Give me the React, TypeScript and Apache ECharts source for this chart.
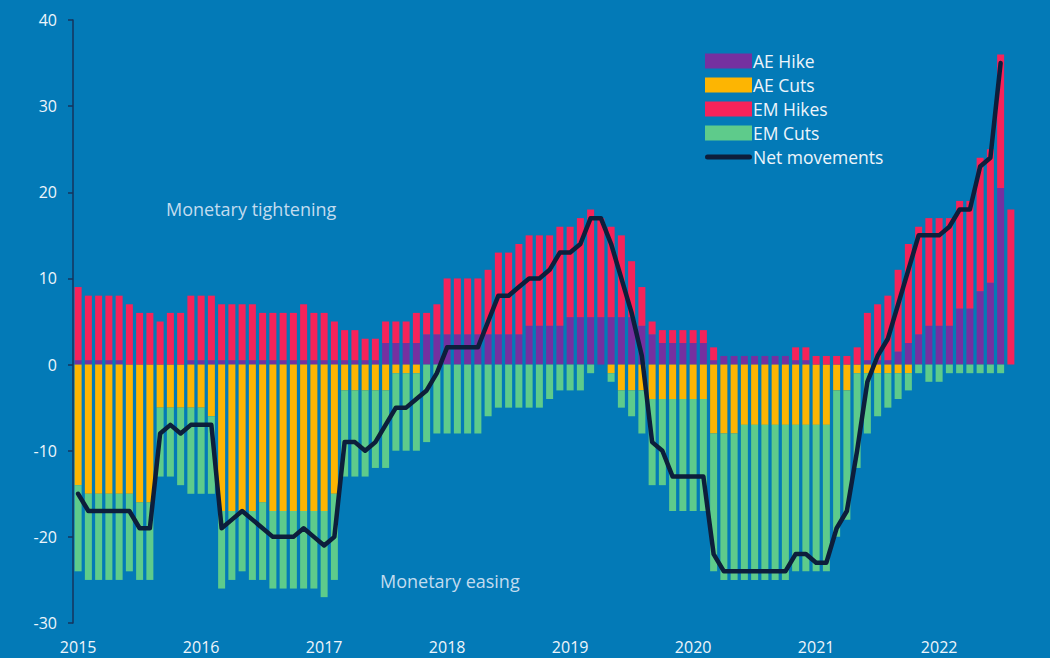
import React, { useEffect, useRef } from "react";
import * as echarts from "echarts";

const years = ["2015", "2016", "2017", "2018", "2019", "2020", "2021", "2022"];
const monthCodes = ["01", "02", "03", "04", "05", "06", "07", "08", "09", "10", "11", "12"];
const categories = years.flatMap((y) => monthCodes.map((m) => `${y}-${m}`)).slice(0, 92);

// AE Hike (purple)
const aeHike = [
  0.5, 0.5, 0.5, 0.5, 0.5, 0, 0, 0, 0, 0, 0, 0.5,
  0.5, 0.5, 0.5, 0.5, 0.5, 0.5, 0.5, 0.5, 0.5, 0.5, 0.5, 0.5,
  0.5, 0.5, 0.5, 0.5, 0.5, 0.5, 2.5, 2.5, 2.5, 2.5, 3.5, 3.5,
  3.5, 3.5, 3.5, 3.5, 3.5, 3.5, 3.5, 3.5, 4.5, 4.5, 4.5, 4.5,
  5.5, 5.5, 5.5, 5.5, 5.5, 5.5, 5.5, 4.5, 3.5, 2.5, 2.5, 2.5,
  2.5, 2.5, 0.5, 1, 1, 1, 1, 1, 1, 1, 0.5, 0.5,
  0, 0, 0, 0, 0, 0.5, 0.5, 0.5, 1.5, 2.5, 3.5, 4.5,
  4.5, 4.5, 6.5, 6.5, 8.5, 9.5, 20.5, 0,
];

// AE Cuts (orange)
const aeCuts = [
  -14, -15, -15, -15, -15, -15, -16, -16, -5, -5, -5, -5,
  -5, -6, -17, -17, -17, -17, -16, -17, -17, -17, -17, -17,
  -17, -15, -3, -3, -3, -3, -3, -1, -1, -1, 0, 0,
  0, 0, 0, 0, 0, 0, 0, 0, 0, 0, 0, 0,
  0, 0, 0, 0, -1, -3, -3, -3, -4, -4, -4, -4,
  -4, -4, -8, -8, -8, -7, -7, -7, -7, -7, -7, -7,
  -7, -7, -3, -3, -1, -1, -1, -1, -1, -1, 0, 0,
  0, 0, 0, 0, 0, 0, 0, 0,
];

// EM Hikes (red)
const emHikes = [
  8.5, 7.5, 7.5, 7.5, 7.5, 7, 6, 6, 5, 6, 6, 7.5,
  7.5, 7.5, 6.5, 6.5, 6.5, 6.5, 5.5, 5.5, 5.5, 5.5, 6.5, 5.5,
  5.5, 4.5, 3.5, 3.5, 2.5, 2.5, 2.5, 2.5, 2.5, 3.5, 2.5, 3.5,
  6.5, 6.5, 6.5, 6.5, 7.5, 9.5, 9.5, 10.5, 10.5, 10.5, 10.5, 11.5,
  10.5, 11.5, 12.5, 11.5, 10.5, 9.5, 6.5, 4.5, 1.5, 1.5, 1.5, 1.5,
  1.5, 1.5, 1.5, 0, 0, 0, 0, 0, 0, 0, 1.5, 1.5,
  1, 1, 1, 1, 2, 5.5, 6.5, 7.5, 9.5, 11.5, 12.5, 12.5,
  12.5, 12.5, 12.5, 12.5, 15.5, 15.5, 15.5, 18,
];

// EM Cuts (green)
const emCuts = [
  -10, -10, -10, -10, -10, -9, -9, -9, -8, -8, -9, -10,
  -10, -9, -9, -8, -7, -8, -9, -9, -9, -9, -9, -9,
  -10, -10, -10, -10, -10, -9, -9, -9, -9, -9, -9, -8,
  -8, -8, -8, -8, -6, -5, -5, -5, -5, -5, -4, -3,
  -3, -3, -1, 0, -1, -2, -3, -5, -10, -10, -13, -13,
  -13, -13, -16, -17, -17, -18, -18, -18, -18, -18, -17, -17,
  -17, -17, -17, -15, -11, -7, -5, -4, -3, -2, -1, -2,
  -2, -1, -1, -1, -1, -1, -1, 0,
];

// Net movements (line)
const netMovements = [
  -15, -17, -17, -17, -17, -17, -19, -19, -8, -7, -8, -7,
  -7, -7, -19, -18, -17, -18, -19, -20, -20, -20, -19, -20,
  -21, -20, -9, -9, -10, -9, -7, -5, -5, -4, -3, -1,
  2, 2, 2, 2, 5, 8, 8, 9, 10, 10, 11, 13,
  13, 14, 17, 17, 14, 10, 6, 1, -9, -10, -13, -13,
  -13, -13, -22, -24, -24, -24, -24, -24, -24, -24, -22, -22,
  -23, -23, -19, -17, -10, -2, 1, 3, 7, 11, 15, 15,
  15, 16, 18, 18, 23, 24, 35, null,
];

const FONT = "'Open Sans', 'Noto Sans', sans-serif";
const BG = "#037ab7";
const TEXT = "#eef5fb";
const AXIS = "#16345c";
const LINE = "#0d1e3b";
const PILL = "path://M2.5,0 H44.5 A2.5,2.5 0 0 1 44.5,5 H2.5 A2.5,2.5 0 0 1 2.5,0 Z";

export default function App() {
  const ref = useRef<HTMLDivElement>(null);

  useEffect(() => {
    if (!ref.current) return;
    const chart = echarts.init(ref.current, null, { renderer: "svg" });
    const barBase = { type: "bar", stack: "total", barWidth: 7 };
    chart.setOption({
      animation: false,
      backgroundColor: BG,
      textStyle: { fontFamily: FONT },
      grid: { left: 73, right: 34, top: 20, bottom: 35 },
      legend: {
        orient: "vertical",
        left: 705,
        top: 52,
        padding: 0,
        itemWidth: 47,
        itemHeight: 15,
        itemGap: 6,
        symbolKeepAspect: true,
        textStyle: { color: TEXT, fontSize: 17.5, fontFamily: FONT, padding: [0, 0, 0, -4] },
        data: [
          { name: "AE Hike", icon: "rect" },
          { name: "AE Cuts", icon: "rect" },
          { name: "EM Hikes", icon: "rect" },
          { name: "EM Cuts", icon: "rect" },
          { name: "Net movements", icon: PILL, itemStyle: { color: LINE } },
        ],
      },
      xAxis: {
        type: "category",
        data: categories,
        axisLine: { show: false, onZero: false },
        axisTick: { show: false },
        splitLine: { show: false },
        axisLabel: {
          interval: 11,
          color: TEXT,
          fontSize: 16,
          fontFamily: FONT,
          margin: 16,
          formatter: (v: string) => v.slice(0, 4),
        },
      },
      yAxis: {
        type: "value",
        min: -30,
        max: 40,
        interval: 10,
        axisLine: { show: true, lineStyle: { color: AXIS, width: 1.5 } },
        axisTick: { show: true, length: 5, lineStyle: { color: AXIS, width: 1.5 } },
        splitLine: { show: false },
        axisLabel: { color: TEXT, fontSize: 16, fontFamily: FONT, margin: 16 },
      },
      graphic: [
        {
          type: "text",
          left: 166,
          top: 200,
          style: { text: "Monetary tightening", fill: "#c2dcef", font: `18px ${FONT}` },
        },
        {
          type: "text",
          left: 380,
          top: 572,
          style: { text: "Monetary easing", fill: "#c2dcef", font: `18px ${FONT}` },
        },
      ],
      series: [
        { ...barBase, name: "AE Hike", data: aeHike, itemStyle: { color: "#7530a0" } },
        { ...barBase, name: "AE Cuts", data: aeCuts, itemStyle: { color: "#fdb502" } },
        { ...barBase, name: "EM Hikes", data: emHikes, itemStyle: { color: "#f6235a" } },
        { ...barBase, name: "EM Cuts", data: emCuts, itemStyle: { color: "#5ecb8b" } },
        {
          type: "line",
          name: "Net movements",
          data: netMovements,
          symbol: "none",
          z: 5,
          lineStyle: { color: LINE, width: 4.5, cap: "round", join: "round" },
          itemStyle: { color: LINE },
        },
      ],
    });
    return () => chart.dispose();
  }, []);

  return (
    <div
      style={{ position: "fixed", left: 0, top: 0, width: 1050, height: 658, background: BG }}
    >
      <div ref={ref} style={{ width: 1050, height: 658 }} />
    </div>
  );
}
